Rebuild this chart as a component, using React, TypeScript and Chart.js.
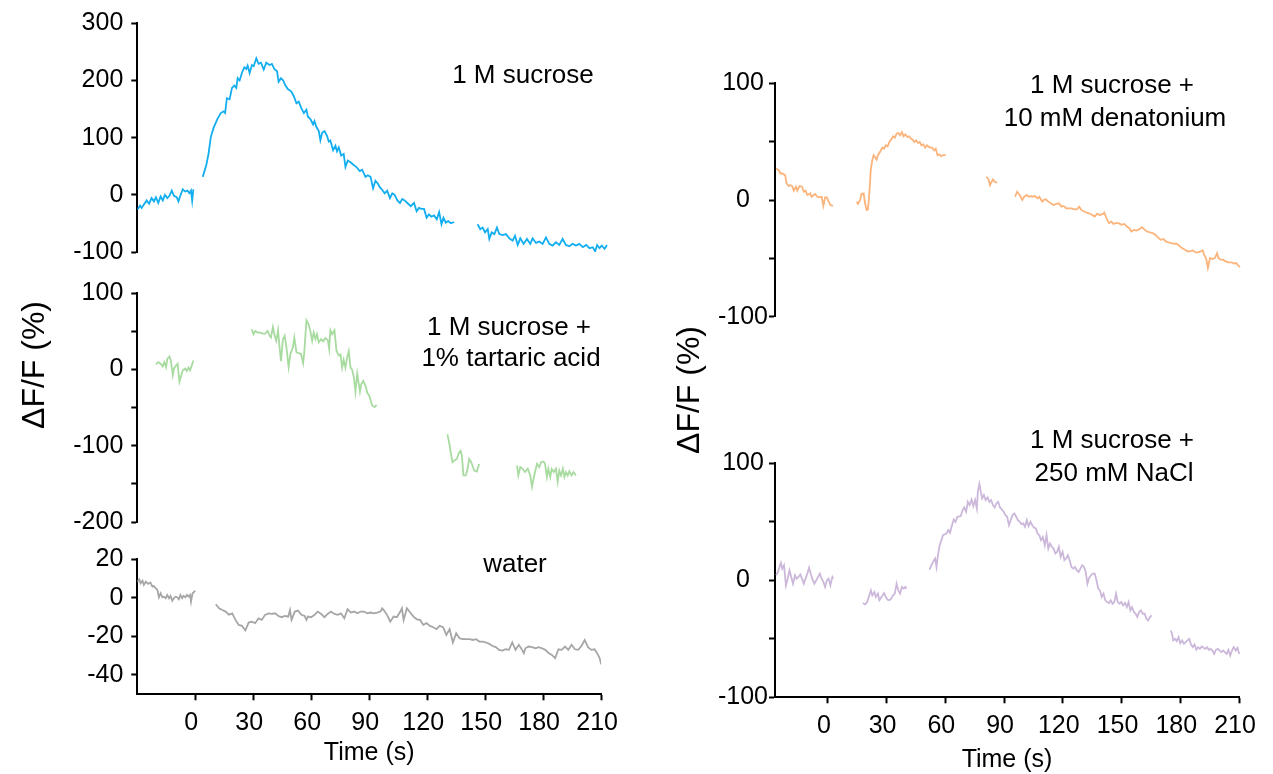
import React, { useEffect, useRef } from 'react';
import { Chart, registerables } from 'chart.js';

Chart.register(...registerables);

const FONT = '"Liberation Sans", Arial, Helvetica, sans-serif';
const X_TICKS = [0, 30, 60, 90, 120, 150, 180, 210];
const X_TITLE = 'Time (s)';
const Y_TITLE = 'ΔF/F (%)';

// ---------- 1 M sucrose ----------
const SUCROSE_T1 = [-30, -28.6, -27.8, -26.1, -25.2, -24, -22.7, -21.5, -20.5, -19.3, -18.1, -17, -15.9, -14.7, -13.6, -12.4, -11.3, -9.9, -9, -8.2, -6.8, -5.6, -4.4, -3.4, -2.6, -2, -1.4];
const SUCROSE_V1 = [-25.8, -18.9, -23, -14.4, -9.8, -15.5, -5.8, -11.5, -4.1, -14.4, -2.9, -9.8, 0, -5.8, -1.8, 7.4, -1.8, -4.1, -11.5, -2.9, 9.7, 5.7, 7.4, 2.8, 7.4, -10.4, 9.7];
const SUCROSE_T2 = [3.4, 5.2, 6.3, 7.5, 8.9, 10.9, 12.6, 14, 14.8, 15.7, 17.1, 18.3, 19.5, 20.5, 21.2, 22.2, 23.4, 24.6, 25.6, 26.3, 27.3, 28.5, 29.4, 30.7, 31.9, 33.1, 34.5, 35.8, 37.5, 38.7, 39.9, 41.3, 42.1, 43.3, 44.4, 45.6, 46.8, 48.5, 49.9, 51.2, 52.4, 53.6, 55, 56.3, 57, 58.4, 59.7, 60.4, 61.4, 62.6, 63.4, 64.3, 65.5, 66.8, 67.7, 68.5, 69.9, 71.1, 71.9, 72.8, 74, 75.3, 76.2, 77.4, 78.8, 80.1, 81.8, 83.5, 84.7, 86.4, 87.6, 89, 90.3, 91.5, 92.7, 93.8, 95, 96.2, 97.5, 98.9, 100.1, 101.3, 102.7, 104, 105.2, 106.4, 107.8, 109.5, 111.2, 112.5, 113.7, 114.9, 116.3, 117.6, 118.8, 120, 121.4, 122.8, 124, 125.2, 126.2, 127.4, 128.6, 130, 131.7];
const SUCROSE_V2 = [31.4, 52, 71, 101, 117, 133, 143, 146, 143, 169, 167, 187, 191, 187, 204, 200, 213.6, 223, 220, 226, 213, 227, 225, 238.8, 229, 231, 219, 231, 227, 229, 220, 216, 197.6, 204, 200, 191, 185, 181, 172, 160, 163, 152, 143, 149, 137, 132, 123, 129, 118.6, 111.5, 95.4, 108.6, 111.5, 103, 93, 95, 78, 86, 76, 83, 68.7, 71.5, 48.6, 60, 57, 53, 48.6, 41.7, 44, 31.4, 34.3, 31.4, 11.3, 24.5, 19.9, 13, 8.4, 2.6, 7.2, -5.8, 2.6, 0, -9.7, -14.3, -7.4, -9.7, -14.3, -20, -14.3, -28.6, -22.9, -24.6, -24.6, -40, -34.3, -38.3, -36, -42.9, -30.3, -51.5, -40, -48.6, -45.8, -49.8, -47.5];
const SUCROSE_T3 = [143.6, 145, 146.2, 147.4, 148.8, 149.6, 150.8, 152.2, 153.5, 154.7, 156.4, 158.1, 159.8, 161.5, 162.7, 164.1, 165.4, 167.1, 168.8, 170.5, 171.7, 173.4, 175.1, 176.8, 178.5, 180.2, 181.9, 183.6, 185.3, 187, 188.7, 190.4, 192.1, 193.8, 195.5, 197.3, 199, 200.7, 202.4, 203.6, 204.6, 205.8, 207, 208.4, 209.7];
const SUCROSE_V3 = [-51.5, -60, -57.2, -65.8, -60, -77.2, -65.8, -68.7, -57.2, -68.7, -70.4, -68.7, -76.1, -80.1, -71.5, -87.6, -76.1, -85.8, -77.2, -85.8, -76.1, -84.1, -81.8, -85.8, -74.4, -85.8, -88.7, -83, -87.6, -77.2, -87.6, -89.9, -85.8, -88.7, -85.8, -91.6, -87.6, -93.3, -91.6, -99, -87.6, -93.3, -88.7, -94.4, -87.6];

// ---------- 1 M sucrose + 1% tartaric acid ----------
const TARTARIC_T1 = [-20.5, -19.3, -18.1, -17, -16.2, -15.3, -14.7, -13.6, -12.9, -11.9, -11.3, -10.2, -9.4, -8.5, -7.8, -6.8, -5.6, -4.8, -3.9, -3.1, -2.2, -1.4];
const TARTARIC_V1 = [6.5, 9.5, 7.3, 3.9, 9.5, 3, 13.8, 16.8, 11.6, -7.7, 0.9, 5.2, 7.3, -16.3, -9.9, -1.3, 0.9, -2.2, 2.2, -1.3, 5.2, 11.6];
const TARTARIC_T2 = [28.4, 29.3, 30.2, 31.4, 32.7, 34.1, 35.3, 36.5, 37.5, 38.2, 39.2, 40.1, 40.9, 41.8, 42.6, 43.3, 44.3, 45.2, 46, 47.2, 48.1, 49.4, 50.1, 51.2, 52.3, 53.5, 54.6, 55.2, 56.3, 57.4, 58.3, 59.2, 60, 60.9, 61.7, 62.6, 63.8, 64.8, 66, 67.2, 67.9, 68.5, 69.4, 70.6, 71.6, 72.8, 73.7, 74.5, 75.3, 76.2, 77.1, 77.9, 78.8, 79.6, 80.5, 81.3, 82.2, 83.6, 84.3, 85.3, 86.5, 87.4, 88.2, 89, 89.9, 91.1, 92.1];
const TARTARIC_V2 = [52.5, 46, 50.3, 48.2, 48.2, 46.9, 46.9, 50.3, 43.9, 41.7, 55.5, 43.9, 37.4, 51.2, 28.8, 10.8, 39.6, 43.9, 31, 3, 20.3, 28.8, 41.7, 22.4, 21.1, 20.3, 8.2, 22.4, 64.1, 59, 50.3, 37.4, 48.2, 39.6, 46, 35.3, 39.6, 36.6, 40.9, 38.3, 26.7, 51.2, 46, 51.2, 24.5, 18.1, 19.4, 2.2, 12.5, 2.2, 15.9, 23.7, 2.2, -0.4, -10.7, -29.3, -5.6, -29.3, -19.4, -15.1, -21.9, -31.4, -33.5, -40, -47.7, -49.5, -46.5];
const TARTARIC_T3 = [128.2, 129.1, 129.9, 130.8, 131.6, 133, 134.2, 135, 135.6, 136.4, 137.6, 138.5, 139.3, 140.2, 141, 141.9, 143.2, 144.4];
const TARTARIC_V3 = [-85.2, -95.9, -108.8, -121.7, -119.6, -117.4, -108.8, -106.7, -113.2, -139, -139, -130.3, -117.4, -120.9, -126, -132.5, -133.8, -123.9];
const TARTARIC_T4 = [163.7, 164.4, 165.4, 166.6, 167.8, 169.2, 170.5, 171.4, 172.2, 172.9, 173.9, 175.1, 176, 177.3, 178, 179, 179.7, 180.7, 181.4, 182.5, 183.6, 184.5, 185.3, 186.2, 187.1, 187.9, 188.7, 189.6, 190.4, 191.6, 192.6, 193.8];
const TARTARIC_V4 = [-126, -139, -128.1, -130.3, -134.6, -130.3, -139, -153.9, -143.2, -134.6, -123.9, -128.1, -121.7, -120.9, -123.9, -141, -130.3, -141, -130.3, -134.6, -130.3, -147.5, -132.5, -139, -130.3, -141, -134.6, -139, -133.3, -139, -134.6, -139];

// ---------- water ----------
const WATER_T1 = [-30, -29, -28.3, -27.3, -26.6, -25.6, -24.4, -23.2, -22.2, -21.5, -20.5, -19.6, -18.8, -17.9, -17, -16.2, -15.3, -14.5, -13.6, -12.8, -11.9, -11.1, -10.2, -9.4, -8.5, -7.7, -6.8, -6.1, -5.1, -4.3, -3.4, -2.7, -2.2, -1.4, -0.5, 0];
const WATER_V1 = [8.3, 9.5, 7.4, 8.8, 6.6, 8.3, 7.1, 7.8, 5.7, 6, 4.9, 4, 0.2, 2.3, 0.2, 0.5, -0.3, 1.4, -0.3, 0.9, -1.6, -0.3, 0.5, 0.2, -0.8, 1.4, -0.3, 0.9, 0.2, 1.4, 0.5, 1.4, -2.1, 2.3, 3.1, 3.6];
const WATER_T2 = [10.6, 12.3, 14, 15.7, 17.4, 19.1, 20.8, 22.5, 24.2, 25.9, 27.6, 29.3, 31, 32.7, 34.4, 36.1, 37.9, 39.6, 41.3, 43, 44.7, 46.4, 48.1, 49, 49.8, 51.5, 53.2, 54.9, 56.6, 57.5, 58.3, 60, 61.7, 63.4, 65.1, 66.8, 68.5, 70.2, 72, 73.7, 75.4, 77.1, 78.8, 80.5, 82.2, 83.9, 85.6, 87.3, 89, 90.7, 92.4, 94.1, 95.8, 96.7, 97.5, 99.2, 100.9, 102.6, 104.3, 106.1, 106.9, 107.8, 109.5, 111.2, 112.9, 114.6, 116.3, 118, 119.7, 121.4, 123.1, 124.8, 126.5, 128.2, 129.9, 131.6, 133.3, 135, 136.7, 138.4, 140.2, 141.9, 143.6, 145.3, 147, 148.7, 150.4, 152.1, 153.8, 155.5, 157.2, 158.9, 160.6, 162.3, 164, 165.7, 167.4, 169.1, 170, 170.8, 172.5, 174.3, 176, 177.7, 179.4, 181.1, 182.8, 184.5, 186.2, 187.9, 189.6, 191.3, 193, 194.7, 196.4, 198.1, 199.8, 201.5, 203.2, 204.9, 206.6, 208.4, 209.2, 210];
const WATER_V2 = [-3.4, -5.5, -6.4, -7.2, -8.8, -8.1, -11.5, -14.1, -14.6, -17, -12.9, -12.4, -13.2, -10.7, -11.5, -8.9, -8.1, -8.4, -8.1, -9.5, -10.1, -9.5, -9.8, -6.4, -11.5, -7.2, -6.7, -8.9, -9.5, -11.5, -9.8, -10.1, -8.9, -7.2, -8.4, -10.1, -8.4, -7.2, -8.4, -8.9, -8.1, -10.7, -6, -7.7, -7.2, -8.1, -7.2, -7.2, -8.1, -7.7, -8.1, -7.7, -7.2, -5.5, -6.4, -8.9, -12.4, -9.8, -10.1, -7.2, -5.5, -11.5, -5.5, -7.7, -9.8, -11.2, -11.5, -14.1, -13.2, -14.6, -15.3, -16.3, -14.6, -15.3, -19.3, -16.3, -23.2, -18.4, -21, -21.5, -21.5, -21.5, -21.9, -21.5, -22.7, -22.7, -23.2, -23.9, -25, -25.6, -27, -27.4, -26.7, -27, -23.2, -27, -24.4, -27, -28.7, -26.2, -25.3, -25.6, -26.2, -25.6, -26.2, -27, -28.7, -29.6, -31.3, -26.7, -27, -25.3, -27, -24.4, -26.7, -27, -25, -21.9, -25.6, -27, -26.7, -29.6, -31.3, -34.5];

// ---------- 1 M sucrose + 10 mM denatonium ----------
const DENATONIUM_T1 = [-26.4, -25.1, -24.2, -23.3, -21.8, -21.1, -20, -19.3, -18.2, -17.4, -16.3, -15.6, -14.5, -13.2, -12.3, -11.4, -10.5, -9, -8.3, -7.2, -6.5, -5.4, -4.1, -3.2, -2.3, -1.4, -0.5, 0.4, 1.3, 2.6];
const DENATONIUM_V1 = [27, 25.6, 22.7, 22.7, 21.3, 14.2, 11.9, 12.8, 11.9, 8, 11.4, 8, 11.9, 11.4, 7.1, 8, 4.3, 5.7, 2.8, 4.3, 5.1, 2.8, 2.3, 2.8, -5.1, 2.3, 2.3, -1.4, -4.3, -5.1];
const DENATONIUM_T2 = [14.7, 15.4, 16.5, 17.2, 18.3, 19, 19.8, 20.5, 20.9, 21.4, 21.9, 22.7, 23.4, 24.1, 24.9, 25.6, 26.9, 27.8, 28.7, 29.6, 30.5, 31.4, 32.3, 33.3, 34.2, 35.1, 36, 36.9, 37.8, 38.7, 39.6, 40.6, 41.5, 42.4, 43.3, 44.2, 45.1, 46, 46.9, 47.8, 48.8, 49.7, 50.6, 51.5, 52.4, 53.3, 54.2, 55.1, 56, 56.9, 57.9, 58.8, 60.2];
const DENATONIUM_V2 = [-1.4, -3.4, 0, 5.1, 5.7, -2.8, -8.5, -8, 0, 11.4, 25.6, 34.1, 38.4, 36.9, 34.7, 38.4, 42, 44.9, 44, 46.9, 46, 49.7, 51.7, 54.5, 53.4, 56.8, 57.4, 55.4, 58.2, 54.5, 56.2, 54, 54.5, 52.6, 51.7, 49.7, 51.1, 48.9, 49.7, 46.9, 47.7, 44.9, 46.9, 45.5, 44.9, 44.9, 42.6, 44, 38.4, 39.2, 37.5, 38.4, 38.4];
const DENATONIUM_T3 = [81, 82.1, 82.8, 83.4, 84.3, 85.2, 86.5];
const DENATONIUM_V3 = [19.9, 17.6, 12.8, 14.8, 17.6, 15.6, 14.8];
const DENATONIUM_T4 = [95.6, 96.7, 98, 99.3, 100.3, 101.6, 102.5, 103.4, 104.4, 105.8, 107.1, 108, 109.5, 110.2, 111.3, 112.6, 113.8, 115.3, 116.8, 118, 119.3, 120.4, 121.7, 123, 124.4, 125.9, 127.2, 128.4, 129.5, 130.8, 132.1, 133.5, 135, 136.3, 137.5, 139, 140.5, 141.2, 142.3, 143.6, 144.8, 145.9, 147.2, 148.5, 150, 151.4, 152.7, 154, 155, 156.3, 157.6, 159.1, 160.5, 161.8, 163.1, 164.5, 166, 167.3, 168.5, 170, 171.4, 172.7, 174, 175.4, 176.9, 178.2, 179.5, 180.9, 182.4, 183.7, 184.9, 186.4, 187.9, 189.1, 190.4, 191.5, 192.2, 193.3, 194.1, 195.2, 196.4, 197.7, 198.8, 199.5, 200.6, 201.9, 203.2, 204.6, 206.1, 207.4, 208.6, 209.7, 210.5, 211.6, 212.3, 213.4];
const DENATONIUM_V4 = [2.8, 7.1, 4.3, 0, 2.8, 4.3, 2.8, 3.4, 2.8, 3.4, 1.4, 2.8, -1.4, 0, 0.6, -1.4, -2.8, -4.3, -3.4, -2.8, -5.7, -5.1, -7.1, -7.1, -7.1, -8, -8, -5.7, -8.5, -9.9, -10.8, -11.4, -12.8, -14.2, -11.9, -12.8, -11.9, -10.8, -15.6, -19.9, -18.5, -20.5, -19.9, -19.9, -21.3, -20.5, -22.7, -24.2, -27, -25.6, -26.1, -25, -23.3, -25.6, -27, -27.8, -28.4, -29.8, -31.8, -34.1, -33.5, -35.5, -36.4, -36.9, -37.5, -37.5, -39.2, -41.2, -42.6, -44, -44, -43.2, -44.9, -44.9, -44, -43.2, -46.9, -50.6, -58.2, -49.7, -50.6, -49.7, -45.5, -49.7, -51.1, -51.1, -52.6, -53.4, -53.4, -54.5, -54, -56.3, -57.4, -53.4, -55.4, -56.8];

// ---------- 1 M sucrose + 250 mM NaCl ----------
const NACL_T1 = [-26.4, -25.5, -24.7, -24, -23.3, -22.4, -21.4, -20.5, -19.6, -18.7, -17.8, -16.8, -15.9, -15, -14.1, -13.2, -12.3, -11.4, -10.5, -9.6, -8.7, -7.8, -6.9, -5.9, -5, -4.1, -3.2, -2.3, -1.4, -0.5, 0.4, 1.3, 2.3, 2.8];
const NACL_V1 = [4.3, 7.1, 11.4, 14.9, 10, 12.9, -4.3, 1.4, 8.6, 2.9, -2.9, 4.3, 1.4, 2.9, 5.1, 1.4, -2.9, 1.4, 5.7, 10.9, 5.1, 0.6, -2.9, 0, 2.9, 5.7, 1.4, -1.4, -5.7, 0, 1.4, -4.3, 2.9, 1.4];
const NACL_T2 = [17.8, 19, 20.1, 20.9, 22, 22.7, 23.8, 24.5, 25.6, 26.3, 27.4, 28.7, 29.6, 30.5, 31.4, 32.3, 33.3, 34.2, 35.1, 36, 36.9, 37.8, 38.7, 39.6, 40.2];
const NACL_V2 = [-19.4, -20.6, -18.6, -14.3, -8.6, -12.9, -10, -14.3, -11.4, -17.1, -14.3, -10.9, -14.3, -16.6, -17.1, -15.7, -12.9, -11.4, -2.9, -8.6, -11.4, -5.7, -7.1, -5.7, -7.1];
const NACL_T3 = [51.9, 53.7, 54.8, 55.5, 56.1, 57, 58.8, 60.6, 61.5, 62.4, 63.4, 64.3, 65.2, 66.1, 67.9, 68.8, 69.7, 70.6, 71.5, 72.4, 73.4, 74.3, 75.2, 76.1, 76.6, 77.4, 77.9, 78.8, 79.7, 80.6, 81.6, 82.5, 83.4, 84.3, 85.2, 86.1, 87, 87.9, 88.9, 89.8, 90.7, 91.6, 92.5, 93.4, 94.3, 95.3, 96.2, 97.1, 98, 98.9, 99.8, 100.7, 101.6, 102.5, 103.5, 104.4, 105.3, 106.2, 107.1, 108, 108.9, 109.8, 110.8, 111.7, 112.6, 113.5, 114.4, 115.3, 116.2, 117.1, 118, 118.9, 119.9, 120.8, 121.7, 122.6, 123.5, 124.4, 125.3, 126.2, 127.1, 128.1, 129, 129.9, 130.8, 131.7, 132.6, 133.5, 134.4, 135.4, 136.3, 137.2, 138.1, 139, 139.9, 140.8, 141.7, 142.7, 143.6, 144.5, 145.4, 146.3, 147.2, 148.1, 149, 149.9, 150.8, 151.8, 152.7, 153.6, 154.5, 155.4, 156.3, 157.2, 158.1, 159, 159.9, 160.9, 161.8, 162.7, 163.6, 164.5, 165.4];
const NACL_V3 = [9.1, 15.7, 18.6, 11.4, 20, 29.1, 38.6, 40, 42.9, 40.6, 47.1, 52, 50, 54.3, 54.9, 60, 62.3, 58.6, 67.1, 64.3, 69.1, 63.4, 68.6, 61.4, 75.7, 82.3, 77.7, 70, 72.9, 68.6, 70.9, 67.1, 68.6, 64.3, 62.3, 65.7, 67.1, 62.3, 60.6, 58.6, 55.7, 54.3, 47.1, 51.4, 55.7, 57.1, 54.3, 51.4, 50, 48, 48.6, 45.7, 51.4, 46.3, 50, 47.1, 45.1, 44.3, 40, 38.6, 34.3, 37.1, 30, 38.6, 27.1, 31.4, 28.6, 27.1, 22.9, 24.3, 28.6, 20, 24.3, 17.1, 18.6, 21.4, 17.1, 11.4, 10, 11.4, 8.6, 7.1, 10, 12.9, 11.4, 7.1, -2.9, 2.3, 4.3, 5.7, 5.7, 0, -7.1, -8.6, -14.3, -11.4, -17.1, -18.6, -19.4, -17.1, -20, -18.6, -11.4, -18.6, -20, -18.6, -21.4, -19.4, -22.9, -18.6, -25.7, -22.9, -27.1, -28.6, -31.4, -27.1, -25.7, -28.6, -28.6, -32.9, -34.3, -31.4, -30];
const NACL_T4 = [175.1, 175.8, 176.4, 177.3, 178.2, 179.1, 180, 181, 181.9, 182.8, 183.7, 184.6, 185.5, 186.4, 187.3, 188.2, 189.1, 190, 191, 191.9, 192.8, 193.7, 194.6, 195.5, 196.4, 197.3, 198.2, 199.2, 200.1, 201, 201.9, 202.8, 203.7, 204.6, 205.5, 206.4, 207.3, 208.3, 209.2, 210.1, 211, 211.9, 212.8];
const NACL_V4 = [-42.9, -45.7, -51.4, -50, -52, -48.6, -53.7, -51.4, -54.3, -52.9, -51.4, -50, -54.9, -57.1, -54.9, -59.4, -57.1, -58.6, -56.6, -57.7, -58.6, -57.1, -59.4, -58.6, -60, -62.9, -59.4, -58.6, -60, -61.4, -60, -61.4, -62.9, -59.4, -64.3, -60, -57.1, -60, -57.7, -62.9, -66.3, -67.1, -68];

// ---------- panel definitions ----------
const PANELS = [
  {
    id: 'sucrose', color: '#12aef0',
    left: 0, top: 0, width: 630, height: 275, yAxisWidth: 137.3,
    pad: { top: 23.3, right: 22.3, bottom: 19, left: 0 },
    xMin: -30, yMin: -100, yMax: 300,
    yTicks: [300, 200, 100, 0, -100], yLabeled: [300, 200, 100, 0, -100],
    yPad: 8, yAlign: 'near', showX: false, clip: true,
    segments: [[SUCROSE_T1, SUCROSE_V1], [SUCROSE_T2, SUCROSE_V2], [SUCROSE_T3, SUCROSE_V3]],
  },
  {
    id: 'tartaric', color: '#a8dba0',
    left: 0, top: 270, width: 630, height: 275, yAxisWidth: 137.3,
    pad: { top: 21.7, right: 22.3, bottom: 20.7, left: 0 },
    xMin: -30, yMin: -200, yMax: 100,
    yTicks: [100, 50, 0, -50, -100, -150, -200], yLabeled: [100, 0, -100, -200],
    yPad: 8, yAlign: 'near', showX: false, clip: true,
    segments: [[TARTARIC_T1, TARTARIC_V1], [TARTARIC_T2, TARTARIC_V2], [TARTARIC_T3, TARTARIC_V3], [TARTARIC_T4, TARTARIC_V4]],
  },
  {
    id: 'water', color: '#a6a6a6',
    left: 0, top: 535, width: 630, height: 239, yAxisWidth: 137.3,
    pad: { top: 24, right: 22.3, bottom: 0, left: 0 },
    xMin: -30, yMin: -50, yMax: 20,
    yTicks: [20, 0, -20, -40], yLabeled: [20, 0, -20, -40],
    yPad: 8, yAlign: 'near', showX: true, xAxisHeight: 79.7, titlePadBottom: 8, clip: true,
    segments: [[WATER_T1, WATER_V1], [WATER_T2, WATER_V2]],
  },
  {
    id: 'denatonium', color: '#fbb47b',
    left: 640, top: 60, width: 633, height: 280, yAxisWidth: 135,
    pad: { top: 23.3, right: 34, bottom: 23.3, left: 0 },
    xMin: -27, yMin: -100, yMax: 100,
    yTicks: [100, 50, 0, -50, -100], yLabeled: [100, 0, -100],
    yPad: 1, yAlign: 'center', showX: false, clip: false,
    segments: [[DENATONIUM_T1, DENATONIUM_V1], [DENATONIUM_T2, DENATONIUM_V2], [DENATONIUM_T3, DENATONIUM_V3], [DENATONIUM_T4, DENATONIUM_V4]],
  },
  {
    id: 'nacl', color: '#ccb8da',
    left: 640, top: 440, width: 633, height: 334, yAxisWidth: 135,
    pad: { top: 23.3, right: 34, bottom: 0, left: 0 },
    xMin: -27, yMin: -100, yMax: 100,
    yTicks: [100, 50, 0, -50, -100], yLabeled: [100, 0, -100],
    yPad: 1, yAlign: 'center', showX: true, xAxisHeight: 76.7, titlePadBottom: 1, clip: false,
    segments: [[NACL_T1, NACL_V1], [NACL_T2, NACL_V2], [NACL_T3, NACL_V3], [NACL_T4, NACL_V4]],
  },
];

const PANEL_LABELS = [
  { text: '1 M sucrose', cx: 523, cy: 74 },
  { text: '1 M sucrose +', cx: 509, cy: 326 },
  { text: '1% tartaric acid', cx: 511, cy: 357 },
  { text: 'water', cx: 515, cy: 563 },
  { text: '1 M sucrose +', cx: 1112, cy: 84 },
  { text: '10 mM denatonium', cx: 1115, cy: 117 },
  { text: '1 M sucrose +', cx: 1112, cy: 439 },
  { text: '250 mM NaCl', cx: 1114, cy: 472 },
];

const Y_TITLES = [
  { cx: 33, cy: 365 },
  { cx: 688, cy: 390 },
];

function buildConfig(p: any) {
  const datasets = p.segments.map((seg: any) => {
    const ts = seg[0];
    const vs = seg[1];
    const ds: any = {
      data: ts.map((t: number, i: number) => ({ x: t, y: vs[i] })),
      borderColor: p.color,
      backgroundColor: p.color,
      borderWidth: 1.8,
      pointRadius: 0,
      pointHoverRadius: 0,
      fill: false,
      tension: 0,
    };
    if (!p.clip) ds.clip = false;
    return ds;
  });

  const axisGrid = {
    display: true,
    drawOnChartArea: false,
    drawTicks: true,
    tickLength: 6,
    tickWidth: 2,
    tickColor: '#000',
    color: '#000',
  };

  return {
    type: 'line',
    data: { datasets },
    options: {
      animation: false,
      responsive: false,
      maintainAspectRatio: false,
      events: [],
      layout: { padding: p.pad },
      plugins: { legend: { display: false }, tooltip: { enabled: false }, title: { display: false } },
      scales: {
        x: {
          type: 'linear',
          min: p.xMin,
          max: 210,
          display: p.showX,
          afterBuildTicks: (axis: any) => {
            axis.ticks = X_TICKS.map((v) => ({ value: v }));
          },
          afterFit: (axis: any) => {
            if (p.showX) axis.height = p.xAxisHeight;
          },
          grid: axisGrid,
          border: { display: true, color: '#000', width: 2 },
          ticks: {
            color: '#000',
            font: { family: FONT, size: 25 },
            padding: 8,
            autoSkip: false,
            maxRotation: 0,
            minRotation: 0,
            labelOffset: -4,
          },
          title: {
            display: p.showX,
            text: X_TITLE,
            color: '#000',
            font: { family: FONT, size: 25, lineHeight: 1 },
            padding: { top: 0, bottom: p.titlePadBottom || 0 },
          },
        },
        y: {
          type: 'linear',
          min: p.yMin,
          max: p.yMax,
          afterBuildTicks: (axis: any) => {
            axis.ticks = p.yTicks.map((v: number) => ({ value: v }));
          },
          afterFit: (axis: any) => {
            axis.width = p.yAxisWidth;
          },
          grid: axisGrid,
          border: { display: true, color: '#000', width: 2 },
          ticks: {
            color: '#000',
            font: { family: FONT, size: 25 },
            padding: p.yPad,
            crossAlign: p.yAlign,
            autoSkip: false,
            callback: (value: any) => (p.yLabeled.includes(value) ? String(value) : ''),
          },
        },
      },
    },
  };
}

function Panel({ spec }: { spec: any }) {
  const ref = useRef<HTMLCanvasElement | null>(null);
  useEffect(() => {
    if (!ref.current) return;
    const chart = new Chart(ref.current, buildConfig(spec) as any);
    return () => chart.destroy();
  }, [spec]);
  return (
    <canvas
      ref={ref}
      width={spec.width}
      height={spec.height}
      style={{ position: 'absolute', left: spec.left, top: spec.top, width: spec.width, height: spec.height }}
    />
  );
}

export default function App() {
  return (
    <div
      style={{
        position: 'absolute',
        left: 0,
        top: 0,
        width: 1273,
        height: 774,
        background: '#ffffff',
        overflow: 'hidden',
        fontFamily: FONT,
        color: '#000',
      }}
    >
      {PANELS.map((p) => (
        <Panel key={p.id} spec={p} />
      ))}
      {PANEL_LABELS.map((l, i) => (
        <div
          key={i}
          style={{
            position: 'absolute',
            left: l.cx - 200,
            width: 400,
            top: l.cy - 16,
            height: 32,
            lineHeight: '32px',
            fontSize: 26,
            textAlign: 'center',
            whiteSpace: 'nowrap',
          }}
        >
          {l.text}
        </div>
      ))}
      {Y_TITLES.map((t, i) => (
        <div
          key={'yt' + i}
          style={{
            position: 'absolute',
            left: t.cx,
            top: t.cy,
            transform: 'translate(-50%, -50%) rotate(-90deg)',
            fontSize: 32,
            lineHeight: 1,
            whiteSpace: 'nowrap',
          }}
        >
          {Y_TITLE}
        </div>
      ))}
    </div>
  );
}
